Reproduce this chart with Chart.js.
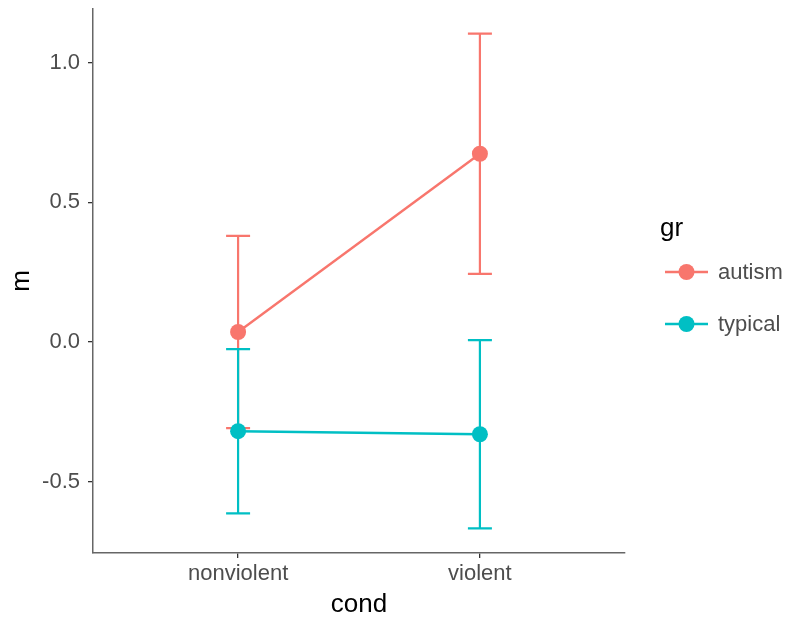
<!DOCTYPE html>
<html>
<head>
<meta charset="utf-8">
<script src="https://cdn.jsdelivr.net/npm/chart.js@4/dist/chart.umd.min.js"></script>
<style>
  html, body { margin: 0; padding: 0; background: #ffffff; }
  #wrap { width: 791px; height: 620px; }
</style>
</head>
<body>
<div id="wrap"><canvas id="chart" width="791" height="620"></canvas></div>
<script>
const conds = ['nonviolent', 'violent'];
const groups = ['autism', 'typical'];
const groupColors = ['#F8766D', '#00BFC4'];

const autismMean = [0.036, 0.674];
const autismLower = [-0.308, 0.244];
const autismUpper = [0.380, 1.104];

const typicalMean = [-0.319, -0.330];
const typicalLower = [-0.613, -0.667];
const typicalUpper = [-0.025, 0.007];

const yTicks = [-0.5, 0.0, 0.5, 1.0];

const FONT = 'Liberation Sans, Arial, sans-serif';

function series(means, lower, upper) {
    return means.map((m, i) => ({ x: i + 1, y: m, lo: lower[i], hi: upper[i] }));
}

const errorBars = {
    id: 'errorBars',
    beforeDatasetsDraw(chart) {
        const { ctx, scales: { x, y } } = chart;
        ctx.save();
        chart.data.datasets.forEach(ds => {
            ctx.strokeStyle = ds.borderColor;
            ctx.lineWidth = 2.2;
            ds.data.forEach(p => {
                const px = x.getPixelForValue(p.x);
                const top = y.getPixelForValue(p.hi);
                const bot = y.getPixelForValue(p.lo);
                ctx.beginPath();
                ctx.moveTo(px, top); ctx.lineTo(px, bot);
                ctx.moveTo(px - 12, top); ctx.lineTo(px + 12, top);
                ctx.moveTo(px - 12, bot); ctx.lineTo(px + 12, bot);
                ctx.stroke();
            });
        });
        ctx.restore();
    }
};

const legendBox = {
    id: 'legendBox',
    afterDraw(chart) {
        const { ctx } = chart;
        ctx.save();
        ctx.fillStyle = '#000000';
        ctx.font = '26px ' + FONT;
        ctx.textAlign = 'left';
        ctx.textBaseline = 'alphabetic';
        ctx.fillText('gr', 660, 236);
        const rows = [272, 324];
        groups.forEach((g, i) => {
            const yy = rows[i];
            ctx.strokeStyle = groupColors[i];
            ctx.lineWidth = 2.4;
            ctx.beginPath();
            ctx.moveTo(665, yy); ctx.lineTo(708, yy);
            ctx.stroke();
            ctx.fillStyle = groupColors[i];
            ctx.beginPath();
            ctx.arc(686.5, yy, 8, 0, Math.PI * 2);
            ctx.fill();
            ctx.fillStyle = '#4D4D4D';
            ctx.font = '22px ' + FONT;
            ctx.textBaseline = 'middle';
            ctx.fillText(g, 718, yy + 1);
        });
        ctx.restore();
    }
};

new Chart(document.getElementById('chart'), {
    type: 'line',
    data: {
        datasets: [
            {
                label: groups[0],
                data: series(autismMean, autismLower, autismUpper),
                borderColor: groupColors[0],
                backgroundColor: groupColors[0],
                borderWidth: 2.4,
                pointRadius: 8,
                pointBorderWidth: 0,
                tension: 0
            },
            {
                label: groups[1],
                data: series(typicalMean, typicalLower, typicalUpper),
                borderColor: groupColors[1],
                backgroundColor: groupColors[1],
                borderWidth: 2.4,
                pointRadius: 8,
                pointBorderWidth: 0,
                tension: 0
            }
        ]
    },
    options: {
        responsive: false,
        animation: false,
        layout: { padding: { top: 9, left: 0, right: 166, bottom: 0 } },
        plugins: {
            legend: { display: false },
            tooltip: { enabled: false }
        },
        scales: {
            x: {
                type: 'linear',
                min: 0.4,
                max: 2.6,
                afterBuildTicks: s => { s.ticks = conds.map((c, i) => ({ value: i + 1 })); },
                afterFit: s => { s.height = 67; s.paddingLeft = 0; s.paddingRight = 0; },
                ticks: {
                    color: '#4D4D4D',
                    font: { family: FONT, size: 22 },
                    padding: 3,
                    maxRotation: 0,
                    callback: v => conds[v - 1]
                },
                grid: { drawOnChartArea: false, drawTicks: true, tickLength: 5, color: '#333333', lineWidth: 1.3 },
                border: { display: true, color: '#666666', width: 1.5 },
                title: {
                    display: true,
                    text: 'cond',
                    color: '#000000',
                    font: { family: FONT, size: 26 },
                    padding: { top: 0, bottom: 0 }
                }
            },
            y: {
                type: 'linear',
                min: -0.755,
                max: 1.192,
                afterBuildTicks: s => { s.ticks = yTicks.map(v => ({ value: v })); },
                afterFit: s => { s.width = 93; s.paddingTop = 0; s.paddingBottom = 0; },
                ticks: {
                    color: '#4D4D4D',
                    font: { family: FONT, size: 22 },
                    padding: 8,
                    callback: v => v.toFixed(1)
                },
                grid: { drawOnChartArea: false, drawTicks: true, tickLength: 5, color: '#333333', lineWidth: 1.3 },
                border: { display: true, color: '#666666', width: 1.5 },
                title: {
                    display: true,
                    text: 'm',
                    color: '#000000',
                    font: { family: FONT, size: 26 },
                    padding: { top: 6, bottom: 0 }
                }
            }
        }
    },
    plugins: [errorBars, legendBox]
});
</script>
</body>
</html>
